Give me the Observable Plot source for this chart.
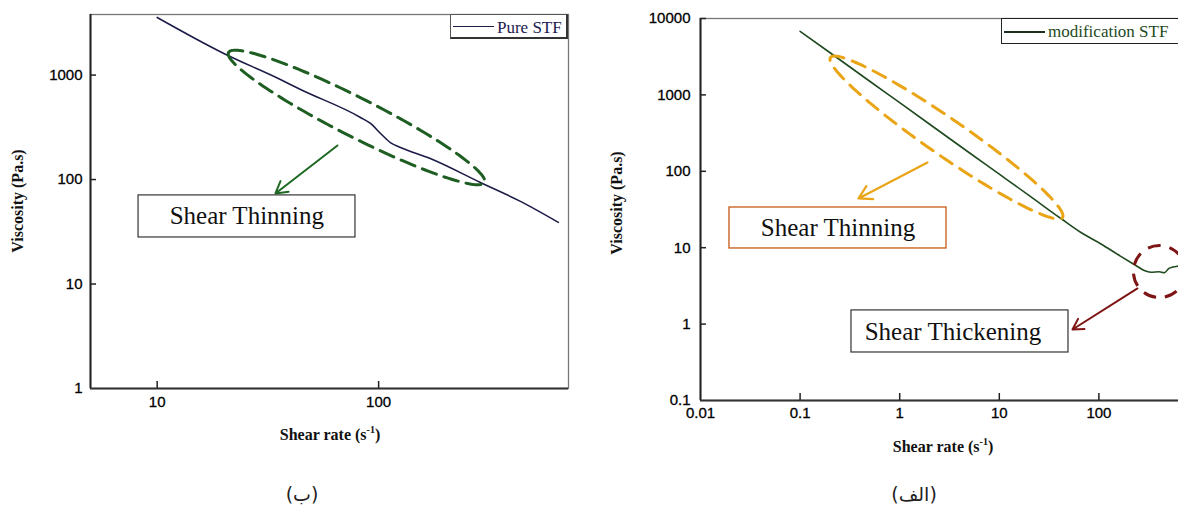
<!DOCTYPE html>
<html>
<head>
<meta charset="utf-8">
<script src="https://cdn.jsdelivr.net/npm/d3@7"></script>
<script src="https://cdn.jsdelivr.net/npm/@observablehq/plot@0.6"></script>
<style>
html,body{margin:0;padding:0;background:#fff;overflow:hidden;}
#wrap{position:relative;width:1178px;height:508px;overflow:hidden;background:#fff;}
.chart{position:absolute;top:0;overflow:visible;}
.chart svg{max-width:none !important;display:block;}
.chart svg text{stroke:#000;stroke-width:0.3px;}
.title{position:absolute;font-family:"Liberation Serif",serif;font-weight:bold;font-size:16px;color:#111;white-space:nowrap;transform:translate(-50%,-50%);}
.title.rot{transform:translate(-50%,-50%) rotate(-90deg);}
.title sup{font-size:10px;}
.legend{position:absolute;background:#fff;box-sizing:border-box;}
.legend .ln{position:absolute;height:0;}
.legend .tx{position:absolute;font-family:"Liberation Serif",serif;font-size:17px;white-space:nowrap;line-height:1;}
.cap{position:absolute;font-family:"DejaVu Sans",sans-serif;font-size:19px;color:#222;transform:translate(-50%,-50%);white-space:nowrap;}
</style>
</head>
<body>
<div id="wrap">
  <div id="left" class="chart" style="left:0px;width:600px"></div>
  <div id="right" class="chart" style="left:600px;width:620px"></div>

  <div class="title rot" style="left:18px;top:201px">Viscosity (Pa.s)</div>
  <div class="title" style="left:330px;top:434px">Shear rate (s<sup>-1</sup>)</div>
  <div class="title rot" style="left:617px;top:203px">Viscosity (Pa.s)</div>
  <div class="title" style="left:943px;top:446px">Shear rate (s<sup>-1</sup>)</div>

  <div class="legend" style="left:450px;top:14px;width:118px;height:25px;border:1px solid #555;border-bottom:2px solid #333;border-right:2px solid #333;">
    <div class="ln" style="left:2px;top:11px;width:41px;border-top:1.6px solid #1c1c48;"></div>
    <div class="tx" style="left:46px;top:4px;color:#1b1b50;">Pure STF</div>
  </div>
  <div class="legend" style="left:1001px;top:18px;width:200px;height:26px;border:1.5px solid #222;">
    <div class="ln" style="left:2px;top:12px;width:41px;border-top:2px solid #1c2e1c;"></div>
    <div class="tx" style="left:46px;top:4px;color:#1e4a1e;">modification STF</div>
  </div>

  <div class="cap" style="left:302px;top:494px">(ب)</div>
  <div class="cap" style="left:914px;top:494px">(الف)</div>
</div>
<script>
// ---- data ----
const pureRate = [10, 20, 36, 44.4, 82.8, 91.9, 102, 113, 125.5, 171, 288, 437, 648];
const pureVisc = [3560, 1610, 908, 728, 393, 344, 276, 226, 203, 159, 93.8, 61.8, 38.9];

const modRate = [0.1, 0.2, 0.5, 1, 2, 5, 10, 20, 41.5, 66, 105, 166, 235, 285, 333, 403, 453, 509, 617, 750];
const modVisc = [6800, 3560, 1510, 790, 413, 175, 91.7, 48, 24.1, 15.8, 11.2, 7.7, 5.85, 5.03, 4.78, 4.85, 4.7, 5.4, 5.73, 5.8];

const leftXTicks = [10, 100];
const leftYTicks = [1, 10, 100, 1000];
const rightXTicks = [0.01, 0.1, 1, 10, 100];
const rightYTicks = [0.1, 1, 10, 100, 1000, 10000];

// ---- layouts ----
const L = {width: 600, height: 460, mL: 90, mT: 14, mR: 32, mB: 72, xDom: [5, 720], yDom: [1, 3800]};
const R = {width: 620, height: 460, mL: 100, mT: 18, mR: 22, mB: 60, xDom: [0.01, 1000], yDom: [0.1, 10000]};

function ellipsePts(cfg, tipA, tipB, halfWidth, n = 160) {
  const kx = (cfg.width - cfg.mL - cfg.mR) / Math.log10(cfg.xDom[1] / cfg.xDom[0]);
  const ky = (cfg.height - cfg.mT - cfg.mB) / Math.log10(cfg.yDom[1] / cfg.yDom[0]);
  const toPx = ([x, y]) => [Math.log10(x) * kx, -Math.log10(y) * ky];
  const toData = (px, py) => ({x: 10 ** (px / kx), y: 10 ** (-py / ky)});
  const a = toPx(tipA), b = toPx(tipB);
  const cx = (a[0] + b[0]) / 2, cy = (a[1] + b[1]) / 2;
  const dx = b[0] - a[0], dy = b[1] - a[1];
  const half = Math.hypot(dx, dy) / 2;
  const ux = dx / (2 * half), uy = dy / (2 * half);
  const pts = [];
  for (let i = 0; i <= n; i++) {
    const t = Math.PI + 2 * Math.PI * i / n;
    const px = cx + half * Math.cos(t) * ux - halfWidth * Math.sin(t) * uy;
    const py = cy + half * Math.cos(t) * uy + halfWidth * Math.sin(t) * ux;
    pts.push(toData(px, py));
  }
  return pts;
}

function baseMarks(cfg, xt, yt) {
  const iw = cfg.width - cfg.mL - cfg.mR, ih = cfg.height - cfg.mT - cfg.mB;
  return [
    Plot.frame({stroke: "#777", strokeWidth: 1.3}),
    Plot.ruleX([cfg.xDom[0]], {stroke: "#222", strokeWidth: 2}),
    Plot.ruleY([cfg.yDom[0]], {stroke: "#333", strokeWidth: 2}),
    Plot.tickX(xt.filter(d => d > cfg.xDom[0]), {x: d => d, insetTop: ih - 7, stroke: "#222", strokeWidth: 1.5}),
    Plot.tickY(yt.filter(d => d > cfg.yDom[0]), {y: d => d, insetRight: iw - 6, stroke: "#222", strokeWidth: 1.5})
  ];
}

function serifText(data, opts) {
  return Plot.text(data, {fontSize: 25, fontFamily: "Liberation Serif, serif", fill: "#111", ...opts});
}

// ---- left chart: Pure STF ----
const pure = pureRate.map((r, i) => ({rate: r, visc: pureVisc[i]}));
const leftEllipse = ellipsePts(L, [21.0, 1644], [300.6, 93.8], 19.5);

const left = Plot.plot({
  width: L.width, height: L.height,
  marginLeft: L.mL, marginTop: L.mT, marginRight: L.mR, marginBottom: L.mB,
  style: {fontFamily: "Liberation Sans, Arial, sans-serif", fontSize: "15px", color: "#000", background: "transparent"},
  x: {type: "log", domain: L.xDom, ticks: leftXTicks, tickFormat: d => String(d), tickSize: 0, tickPadding: 8, label: null},
  y: {type: "log", domain: L.yDom, ticks: leftYTicks, tickFormat: d => String(d), tickSize: 0, tickPadding: 8, label: null},
  marks: [
    ...baseMarks(L, leftXTicks, leftYTicks),
    Plot.line(pure, {x: "rate", y: "visc", stroke: "#1c1c48", strokeWidth: 1.6, curve: "monotone-x"}),
    Plot.line(leftEllipse, {x: "x", y: "y", stroke: "#1e5e22", strokeWidth: 3, strokeDasharray: "15,8"}),
    Plot.arrow([{x1: 65.2, y1: 212, x2: 34.2, y2: 73.6}], {x1: "x1", y1: "y1", x2: "x2", y2: "y2", stroke: "#1e6a24", strokeWidth: 2, headLength: 10}),
    Plot.rect([{x1: 8.24, x2: 78.6, y1: 27.9, y2: 70.5}], {x1: "x1", x2: "x2", y1: "y1", y2: "y2", fill: "white", stroke: "#333", strokeWidth: 1.2}),
    serifText([{x: 25.4, y: 44.4, t: "Shear Thinning"}], {x: "x", y: "y", text: "t"})
  ]
});
document.getElementById("left").appendChild(left);

// ---- right chart: modification STF ----
const mod = modRate.map((r, i) => ({rate: r, visc: modVisc[i]}));
const rightEllipse = ellipsePts(R, [0.2018, 3090], [43.1, 24.8], 18.5);

const right = Plot.plot({
  width: R.width, height: R.height,
  marginLeft: R.mL, marginTop: R.mT, marginRight: R.mR, marginBottom: R.mB,
  style: {fontFamily: "Liberation Sans, Arial, sans-serif", fontSize: "15px", color: "#000", background: "transparent", overflow: "visible"},
  x: {type: "log", domain: R.xDom, ticks: rightXTicks, tickFormat: d => String(d), tickSize: 0, tickPadding: 7, label: null},
  y: {type: "log", domain: R.yDom, ticks: rightYTicks, tickFormat: d => String(d), tickSize: 0, tickPadding: 10, label: null},
  marks: [
    ...baseMarks(R, rightXTicks, rightYTicks),
    Plot.line(mod, {x: "rate", y: "visc", stroke: "#1f4a1f", strokeWidth: 1.6, curve: "monotone-x"}),
    Plot.line(rightEllipse, {x: "x", y: "y", stroke: "#e9a516", strokeWidth: 3, strokeDasharray: "14,9"}),
    Plot.arrow([{x1: 1.90, y1: 130, x2: 0.386, y2: 44.1}], {x1: "x1", y1: "y1", x2: "x2", y2: "y2", stroke: "#e9a516", strokeWidth: 2.2, headLength: 10}),
    Plot.rect([{x1: 0.01954, x2: 2.95, y1: 9.77, y2: 33.6}], {x1: "x1", x2: "x2", y1: "y1", y2: "y2", fill: "white", stroke: "#c65a14", strokeWidth: 1.3}),
    serifText([{x: 0.24, y: 18.1, t: "Shear Thinning"}], {x: "x", y: "y", text: "t"}),
    Plot.dot([{x: 405, y: 4.87}], {x: "x", y: "y", r: 26, fill: "none", stroke: "#7e1414", strokeWidth: 3, strokeDasharray: "13,9"}),
    Plot.arrow([{x1: 244, y1: 2.93, x2: 54.3, y2: 0.85}], {x1: "x1", y1: "y1", x2: "x2", y2: "y2", stroke: "#7e1414", strokeWidth: 2, headLength: 9}),
    Plot.rect([{x1: 0.328, x2: 49.5, y1: 0.425, y2: 1.51}], {x1: "x1", x2: "x2", y1: "y1", y2: "y2", fill: "white", stroke: "#333", strokeWidth: 1.2}),
    serifText([{x: 4.03, y: 0.80, t: "Shear Thickening"}], {x: "x", y: "y", text: "t", dx: -7})
  ]
});
document.getElementById("right").appendChild(right);

// serif face and no faux-bold on the annotation labels
for (const svg of [left, right]) {
  d3.select(svg).selectAll("text")
    .filter(function () { return /Shear/.test(this.textContent); })
    .style("font-family", '"Liberation Serif", "Times New Roman", serif')
    .style("stroke", "none");
}
</script>
</body>
</html>
